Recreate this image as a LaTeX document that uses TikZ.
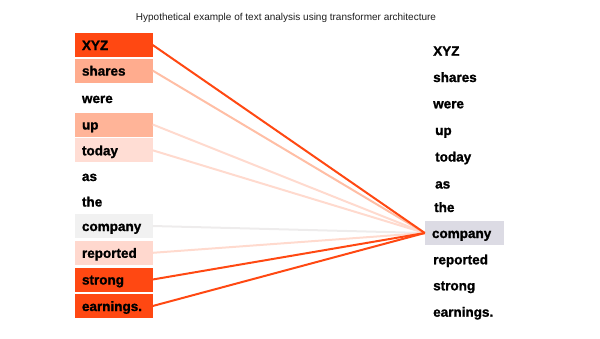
\documentclass[tikz,border=0pt]{standalone}
\usepackage{fontspec}
\setmainfont{Liberation Sans}[BoldFeatures={FakeBold=1.3}]
\definecolor{hot}{RGB}{255,72,18}
\definecolor{salmon}{RGB}{255,172,142}
\definecolor{salmonB}{RGB}{255,180,152}
\definecolor{pinkA}{RGB}{255,221,212}
\definecolor{pinkB}{RGB}{255,216,206}
\definecolor{greyA}{RGB}{241,241,241}
\definecolor{lav}{RGB}{220,219,228}
\definecolor{lnShares}{RGB}{255,190,165}
\definecolor{lnFaint}{RGB}{255,218,206}
\definecolor{lnGrey}{RGB}{238,236,236}
\definecolor{titlec}{RGB}{30,30,30}
\begin{document}
\begin{tikzpicture}[x=1pt,y=-1pt,
  word/.style={font=\bfseries\fontsize{13.5}{15}\selectfont, text=black},
  lbox/.style={word, minimum width=77.5pt, minimum height=24pt, inner xsep=7pt, inner ysep=0pt, text width=63.5pt, text height=11pt, text depth=1pt, align=left, anchor=center},
  rword/.style={word, anchor=west, inner sep=0pt, text height=11pt, text depth=1pt},
  link/.style={line width=2pt}
]
\useasboundingbox (0,0) rectangle (600,338);
\node[font=\fontsize{10}{12}\selectfont, text=titlec] (title) at (286,17.5) {Hypothetical example of text analysis using transformer architecture};
% left column
\node[lbox, fill=hot]      (l0)  at (113.75,45.0)  {XYZ};
\node[lbox, fill=salmon]   (l1)  at (113.75,70.6)  {shares};
\node[lbox]                (l2)  at (113.75,98.0)  {were};
\node[lbox, fill=salmonB]  (l3)  at (113.75,124.5) {up};
\node[lbox, fill=pinkA]    (l4)  at (113.75,150.3) {today};
\node[lbox]                (l5)  at (113.75,176.0) {as};
\node[lbox]                (l6)  at (113.75,201.5) {the};
\node[lbox, fill=greyA]    (l7)  at (113.75,226.0) {company};
\node[lbox, fill=pinkB]    (l8)  at (113.75,252.8) {reported};
\node[lbox, fill=hot]      (l9)  at (113.75,279.5) {strong};
\node[lbox, fill=hot]      (l10) at (113.75,306.0) {earnings.};
% right column
\node[rword] (r0)  at (433,50.7)  {XYZ};
\node[rword] (r1)  at (433,77.0)  {shares};
\node[rword] (r2)  at (433,103.3) {were};
\node[rword] (r3)  at (435,130.0) {up};
\node[rword] (r4)  at (435,156.5) {today};
\node[rword] (r5)  at (435,183.5) {as};
\node[rword] (r6)  at (434,207.0) {the};
\node[lbox, fill=lav, minimum width=79pt, text width=65pt] (r7) at (464.5,233.0) {company};
\node[rword] (r8)  at (433,259.3) {reported};
\node[rword] (r9)  at (433,285.3) {strong};
\node[rword] (r10) at (433,311.7) {earnings.};
% connectors
\draw[link, lnGrey]   (l7.east)  -- (r7.west);
\draw[link, lnFaint]  (l3.east)  -- (r7.west);
\draw[link, lnFaint]  (l4.east)  -- (r7.west);
\draw[link, lnFaint]  (l8.east)  -- (r7.west);
\draw[link, lnShares] (l1.east)  -- (r7.west);
\draw[link, hot]      (l0.east)  -- (r7.west);
\draw[link, hot]      (l9.east)  -- (r7.west);
\draw[link, hot]      (l10.east) -- (r7.west);
\end{tikzpicture}
\end{document}
